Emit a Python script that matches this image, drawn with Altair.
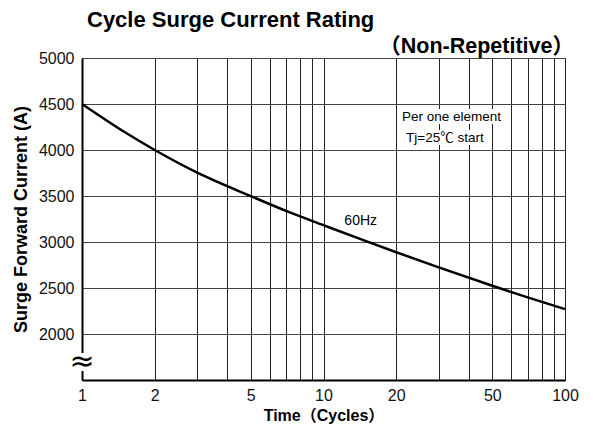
import altair as alt
import pandas as pd

# Data
cycles = [1, 1.5, 2, 3, 5, 7, 10, 15, 20, 30, 50, 70, 100]
current = [4500, 4195, 4000, 3754, 3499, 3338, 3183, 3009, 2889, 2724, 2524, 2398, 2271]

x_grid = [1, 2, 3, 4, 5, 6, 7, 8, 9, 10, 20, 30, 40, 50, 60, 70, 80, 90, 100]
x_labels = [1, 2, 5, 10, 20, 50, 100]
y_ticks = [2000, 2500, 3000, 3500, 4000, 4500, 5000]

FONT = "Liberation Sans, Noto Sans CJK JP"

df = pd.DataFrame({"cycles": cycles, "current": current})

xscale = alt.Scale(type="log", domain=[1, 100], nice=False)
yscale = alt.Scale(domain=[1500, 5000], nice=False, zero=False)

label_test = " || ".join(f"datum.value == {v}" for v in x_labels)

line = alt.Chart(df).mark_line(color="black", strokeWidth=2.5, interpolate="monotone").encode(
    x=alt.X("cycles:Q", scale=xscale,
            axis=alt.Axis(values=x_grid, labelExpr=f"({label_test}) ? datum.label : ''",
                          title="Time（Cycles）", grid=True, ticks=False,
                          labelFontSize=16, labelPadding=7, titleFontSize=16,
                          titleFontWeight="bold", titlePadding=4,
                          labelFont=FONT, titleFont=FONT, labelColor="#111", titleColor="#000",
                          gridColor="#222", gridWidth=1, gridOpacity=1,
                          domainColor="#000", domainWidth=2, labelFlush=False)),
    y=alt.Y("current:Q", scale=yscale,
            axis=alt.Axis(values=y_ticks, format="d", title="Surge Forward Current (A)",
                          grid=True, ticks=False,
                          labelFontSize=16, labelPadding=8, titleFontSize=18,
                          titleFontWeight="bold", titlePadding=8,
                          labelFont=FONT, titleFont=FONT, labelColor="#111", titleColor="#000",
                          gridColor="#444", gridWidth=1, gridOpacity=1,
                          domainColor="#000", domainWidth=2)),
)

def txt(s, x, y, size, weight="normal", align="left", font=FONT):
    return alt.Chart(pd.DataFrame({"t": [s]})).mark_text(
        align=align, baseline="middle", fontSize=size, fontWeight=weight, font=font, color="#000"
    ).encode(text="t:N", x=alt.value(x), y=alt.value(y))

def box(x1, x2, y1, y2):
    return alt.Chart(pd.DataFrame({"a": [0]})).mark_rect(color="white").encode(
        x=alt.value(x1), x2=alt.value(x2), y=alt.value(y1), y2=alt.value(y2))

title = txt("Cycle Surge Current Rating", 5, -38, 22, "bold")
subtitle = txt("（Non-Repetitive）", 492, -11, 21.5, "bold", "right")

note_bg1 = box(318, 424, 51, 66)
note_bg2 = box(322, 410, 72, 87)
note1 = txt("Per one element", 320, 59, 13.5)
note2 = txt("Tj=25℃ start", 324, 80, 13.5)

hz = alt.Chart(pd.DataFrame({"x": [12.2], "y": [3225], "t": ["60Hz"]})).mark_text(
    align="left", baseline="middle", fontSize=14, font=FONT, color="#000"
).encode(x=alt.X("x:Q", scale=xscale), y=alt.Y("y:Q", scale=yscale), text="t:N")

brk_bg = box(-6, 6, 295, 313)
brk = txt("≈", 0, 304, 30, "normal", "center", "DejaVu Sans")

chart = alt.layer(
    line, note_bg1, note_bg2, note1, note2, hz, brk_bg, brk, title, subtitle
).properties(
    width=483, height=322,
    padding={"left": 74, "top": 50, "right": 20, "bottom": 45},
    autosize="none",
).configure_view(stroke="#000", strokeWidth=1)

chart.save("out.html", embed_options={"renderer": "svg", "actions": False})
